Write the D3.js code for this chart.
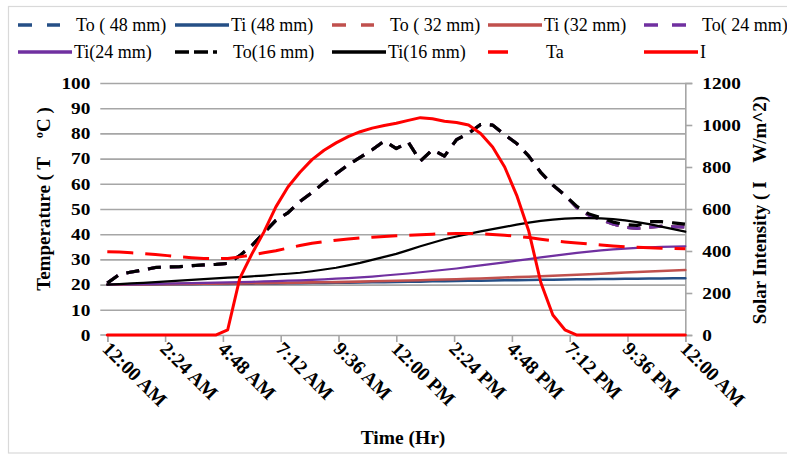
<!DOCTYPE html>
<html>
<head>
<meta charset="utf-8">
<script src="https://cdn.jsdelivr.net/npm/d3@7"></script>
<style>
  html, body { margin: 0; padding: 0; background: #fff; }
  svg { display: block; }
  text { font-family: "Liberation Serif", "Times New Roman", serif; white-space: pre; }
</style>
</head>
<body>
<svg id="chart" width="787" height="456"></svg>
<script>
// ---------------- DATA ----------------
const hours = [0,0.5,1,1.5,2,2.5,3,3.5,4,4.5,5,5.5,6,6.5,7,7.5,8,8.5,9,9.5,10,10.5,11,11.5,12,
  12.5,13,13.5,14,14.5,15,15.5,16,16.5,17,17.5,18,18.5,19,19.5,20,20.5,21,21.5,22,22.5,23,23.5,24];

const tickHours = [0, 2.4, 4.8, 7.2, 9.6, 12, 14.4, 16.8, 19.2, 21.6, 24];
const tickLabels = ["12:00 AM","2:24 AM","4:48 AM","7:12 AM","9:36 AM","12:00 PM",
                    "2:24 PM","4:48 PM","7:12 PM","9:36 PM","12:00 AM"];
const tempTicks = [0,10,20,30,40,50,60,70,80,90,100];
const solarTicks = [0,200,400,600,800,1000,1200];

const to16 = [20.6,24.0,25.0,25.8,26.8,27.0,27.1,27.5,27.8,28.0,28.4,31.5,35.5,40.5,45.5,48.5,53.0,
  56.5,60.5,64.0,67.5,70.5,73.5,77.0,74.0,76.5,69.0,73.5,71.0,77.5,80.0,83.5,83.3,79.5,76.0,71.0,
  64.5,59.5,55.5,51.0,48.0,46.5,44.8,43.8,43.5,45.0,45.0,44.5,44.0];
const to24 = [20.6,24.0,25.0,25.8,26.8,27.0,27.1,27.5,27.8,28.0,28.4,31.5,35.5,40.5,45.5,48.5,53.0,
  56.5,60.5,64.0,67.5,70.5,73.5,77.0,74.0,76.5,69.0,73.5,71.0,77.5,80.0,83.5,83.3,79.5,76.0,71.0,
  64.5,59.5,55.5,50.5,47.5,45.8,44.0,42.8,42.3,42.8,43.2,43.0,42.8];
const to32 = [20.6,24.0,25.0,25.8,26.8,27.0,27.1,27.5,27.8,28.0,28.4,31.5,35.5,40.5,45.5,48.5,53.0,
  56.5,60.5,64.0,67.5,70.5,73.5,77.0,74.0,76.5,69.0,73.5,71.0,77.5,80.0,83.5,83.3,79.5,76.0,71.0,
  64.5,59.5,55.5,50.5,47.5,45.8,44.0,42.8,42.3,42.8,43.2,43.0,42.8];
const to48 = [20.6,24.0,25.0,25.8,26.8,27.0,27.1,27.5,27.8,28.0,28.4,31.5,35.5,40.5,45.5,48.5,53.0,
  56.5,60.5,64.0,67.5,70.5,73.5,77.0,74.0,76.5,69.0,73.5,71.0,77.5,80.0,83.5,83.3,79.5,76.0,71.0,
  64.5,59.5,55.5,50.5,47.5,45.8,44.0,42.8,42.3,42.8,43.2,43.0,42.8];

const ti16 = [20.0,20.2,20.5,20.7,21.0,21.3,21.6,21.9,22.2,22.5,22.8,23.0,23.3,23.6,24.0,24.3,24.7,
  25.3,26.0,26.7,27.6,28.6,29.8,31.0,32.2,33.7,35.2,36.6,38.0,39.1,40.1,41.1,42.0,42.9,43.8,44.6,
  45.3,45.8,46.2,46.4,46.4,46.3,46.0,45.5,44.8,44.0,43.0,42.0,41.0];
const ti24 = [20.0,20.05,20.1,20.2,20.3,20.4,20.5,20.6,20.7,20.8,20.9,21.0,21.1,21.25,21.4,21.55,21.7,
  21.9,22.1,22.35,22.6,22.9,23.2,23.6,24.0,24.4,24.9,25.4,25.9,26.4,27.0,27.6,28.2,28.8,29.5,30.1,
  30.8,31.4,32.0,32.6,33.1,33.6,34.0,34.3,34.6,34.8,35.0,35.1,35.2];
const ti32 = [20.0,20.0,20.1,20.1,20.2,20.2,20.3,20.3,20.4,20.4,20.5,20.5,20.6,20.6,20.7,20.7,20.8,
  20.9,20.95,21.0,21.1,21.2,21.3,21.4,21.5,21.6,21.75,21.9,22.0,22.15,22.3,22.45,22.6,22.8,22.95,23.1,
  23.3,23.5,23.7,23.9,24.1,24.3,24.55,24.8,25.0,25.2,25.4,25.6,25.8];
const ti48 = [20.0,20.0,20.05,20.1,20.1,20.15,20.2,20.2,20.25,20.3,20.3,20.35,20.4,20.45,20.5,20.55,20.6,
  20.65,20.7,20.75,20.8,20.9,20.95,21.0,21.1,21.15,21.2,21.3,21.35,21.4,21.5,21.55,21.6,21.7,21.75,21.8,
  21.9,21.95,22.0,22.1,22.15,22.2,22.25,22.3,22.35,22.4,22.45,22.5,22.5];

const ta = [33.0,32.9,32.6,32.3,31.9,31.5,31.0,30.7,30.4,30.3,30.4,31.0,31.8,32.6,33.4,34.5,35.5,
  36.4,37.0,37.6,38.1,38.5,38.8,39.1,39.4,39.6,39.8,40.0,40.2,40.3,40.3,40.2,39.9,39.6,39.2,38.7,
  38.0,37.4,36.9,36.5,36.1,35.7,35.3,35.0,34.8,34.6,34.4,34.3,34.2];

const solar = [0,0,0,0,0,0,0,0,0,0,25,270,385,490,610,705,775,835,880,915,945,968,985,998,1008,
  1022,1035,1030,1018,1012,1000,960,895,800,665,495,250,95,25,0,0,0,0,0,0,0,0,0,0];

const seriesNames = ["To ( 48 mm)","Ti (48 mm)","To ( 32 mm)","Ti (32 mm)","To( 24 mm)",
                     "Ti(24 mm)","To(16 mm)","Ti(16 mm)","Ta","I"];

// ---------------- STYLES ----------------
const BLUE = "#254f86", BROWN = "#c0504d", PURPLE = "#7030a0", BLACK = "#000000", RED = "#ff0000";
const DASH_TO = "13,9", DASH_TA = "26,12";
const series = [
  {name: seriesNames[0], values: to48, color: BLUE,   dash: DASH_TO, w: 3,   axis: "L", legDash: "14,15"},
  {name: seriesNames[1], values: ti48, color: BLUE,   dash: null,    w: 2.6, axis: "L"},
  {name: seriesNames[2], values: to32, color: BROWN,  dash: DASH_TO, w: 3,   axis: "L", legDash: "14,15"},
  {name: seriesNames[3], values: ti32, color: BROWN,  dash: null,    w: 2.6, axis: "L"},
  {name: seriesNames[4], values: to24, color: PURPLE, dash: DASH_TO, w: 3,   axis: "L", legDash: "14,14"},
  {name: seriesNames[5], values: ti24, color: PURPLE, dash: null,    w: 2.2, axis: "L"},
  {name: seriesNames[6], values: to16, color: BLACK,  dash: DASH_TO, w: 3.2, axis: "L", legDash: "14,5"},
  {name: seriesNames[7], values: ti16, color: BLACK,  dash: null,    w: 2.2, axis: "L"},
  {name: seriesNames[8], values: ta,   color: RED,    dash: DASH_TA, w: 3,   axis: "L", legDash: "20,24"},
  {name: seriesNames[9], values: solar,color: RED,    dash: null,    w: 3,   axis: "R"}
];

// ---------------- LAYOUT ----------------
const svg = d3.select("#chart");
const X0 = 107.3, X1 = 685.3, Y0 = 335, Y1 = 83;
const x = d3.scaleLinear().domain([0, 24]).range([X0, X1]);
const yL = d3.scaleLinear().domain([0, 100]).range([Y0, Y1]);
const yR = d3.scaleLinear().domain([0, 1200]).range([Y0, Y1]);
const GRID = "#a6a6a6";
const SX = 1.17; // horizontal stretch of tick numbers

// chart border
svg.append("rect").attr("x", 8.5).attr("y", 6.5).attr("width", 790).attr("height", 446.5)
  .attr("fill", "none").attr("stroke", "#d9d9d9").attr("stroke-width", 1.2);

// gridlines (left axis)
const grid = svg.append("g").attr("transform", `translate(${X0 - 7},0)`)
  .call(d3.axisLeft(yL).tickValues(tempTicks.slice(1)).tickSize(-(X1 - X0 + 7)).tickFormat(""));
grid.select(".domain").remove();
grid.selectAll("line").attr("stroke", GRID).attr("stroke-width", 1.6);

// left tick labels
const la = svg.append("g").attr("transform", `translate(${X0 - 7},0)`)
  .call(d3.axisLeft(yL).tickValues(tempTicks).tickSize(0).tickPadding(10 / SX));
la.select(".domain").remove();
la.selectAll("text").attr("font-family", "Liberation Serif").attr("font-weight", "bold")
  .attr("font-size", 16.5).attr("fill", "#000").attr("transform", `scale(${SX},1)`);

// x axis
const xa = svg.append("g").attr("transform", `translate(0,${Y0})`)
  .call(d3.axisBottom(x).tickValues(tickHours).tickSize(7).tickFormat(""));
xa.select(".domain").attr("stroke", GRID).attr("stroke-width", 1.6);
xa.selectAll("line").attr("stroke", GRID).attr("stroke-width", 1.6);
svg.append("line").attr("x1", X0 - 7).attr("x2", X0).attr("y1", yL(0)).attr("y2", yL(0))
  .attr("stroke", GRID).attr("stroke-width", 1.6);

svg.append("g").selectAll("text").data(tickHours).join("text")
  .attr("transform", (d) => `translate(${x(d) - 6},${Y0 + 15}) rotate(45)`)
  .attr("text-anchor", "start")
  .attr("font-weight", "bold").attr("font-size", 19.5).attr("fill", "#000")
  .text((d, i) => tickLabels[i]);

// right axis
const ra = svg.append("g").attr("transform", `translate(${X1},0)`)
  .call(d3.axisRight(yR).tickValues(solarTicks).tickSize(7).tickPadding(17 / SX - 7)
    .tickFormat(d3.format("d")));
ra.select(".domain").attr("stroke", GRID).attr("stroke-width", 1.6);
ra.selectAll("line").attr("stroke", GRID).attr("stroke-width", 1.6);
ra.selectAll("text").attr("font-family", "Liberation Serif").attr("font-weight", "bold")
  .attr("font-size", 16.5).attr("fill", "#000").attr("transform", `scale(${SX},1)`);

// axis titles
svg.append("text").attr("transform", `translate(50,199) rotate(-90)`)
  .attr("text-anchor", "middle").attr("font-weight", "bold").attr("font-size", 19)
  .text("Temperature ( T    ºC )");
svg.append("text").attr("transform", `translate(766,210) rotate(-90)`)
  .attr("text-anchor", "middle").attr("font-weight", "bold").attr("font-size", 19)
  .text("Solar Intensity ( I    W/m^2)");
svg.append("text").attr("x", 403).attr("y", 444)
  .attr("text-anchor", "middle").attr("font-weight", "bold").attr("font-size", 19.5)
  .text("Time (Hr)");

// lines
const plot = svg.append("g");
series.forEach(s => {
  const yS = s.axis === "R" ? yR : yL;
  const line = d3.line().x((d, i) => x(hours[i])).y(d => yS(d)).curve(d3.curveLinear);
  plot.append("path").datum(s.values)
    .attr("d", line)
    .attr("fill", "none")
    .attr("stroke", s.color)
    .attr("stroke-width", s.w)
    .attr("stroke-linejoin", "round")
    .attr("stroke-linecap", s.dash ? "butt" : "round")
    .attr("stroke-dasharray", s.dash);
});

// legend
const legCols = [18, 175, 332, 488, 644];
const legRows = [25, 52];
const leg = svg.append("g");
series.forEach((s, i) => {
  const col = legCols[i % 5], row = legRows[Math.floor(i / 5)];
  const g = leg.append("g").attr("transform", `translate(${col},${row})`);
  g.append("line").attr("x1", 0).attr("x2", s.dash ? 42 : 54).attr("y1", 0).attr("y2", 0)
    .attr("stroke", s.color).attr("stroke-width", 3.5)
    .attr("stroke-dasharray", s.legDash || null);
  g.append("text").attr("x", s.dash ? 58 : 56).attr("y", 5.5)
    .attr("font-size", 18).attr("fill", "#000").text(s.name);
});
</script>
</body>
</html>
